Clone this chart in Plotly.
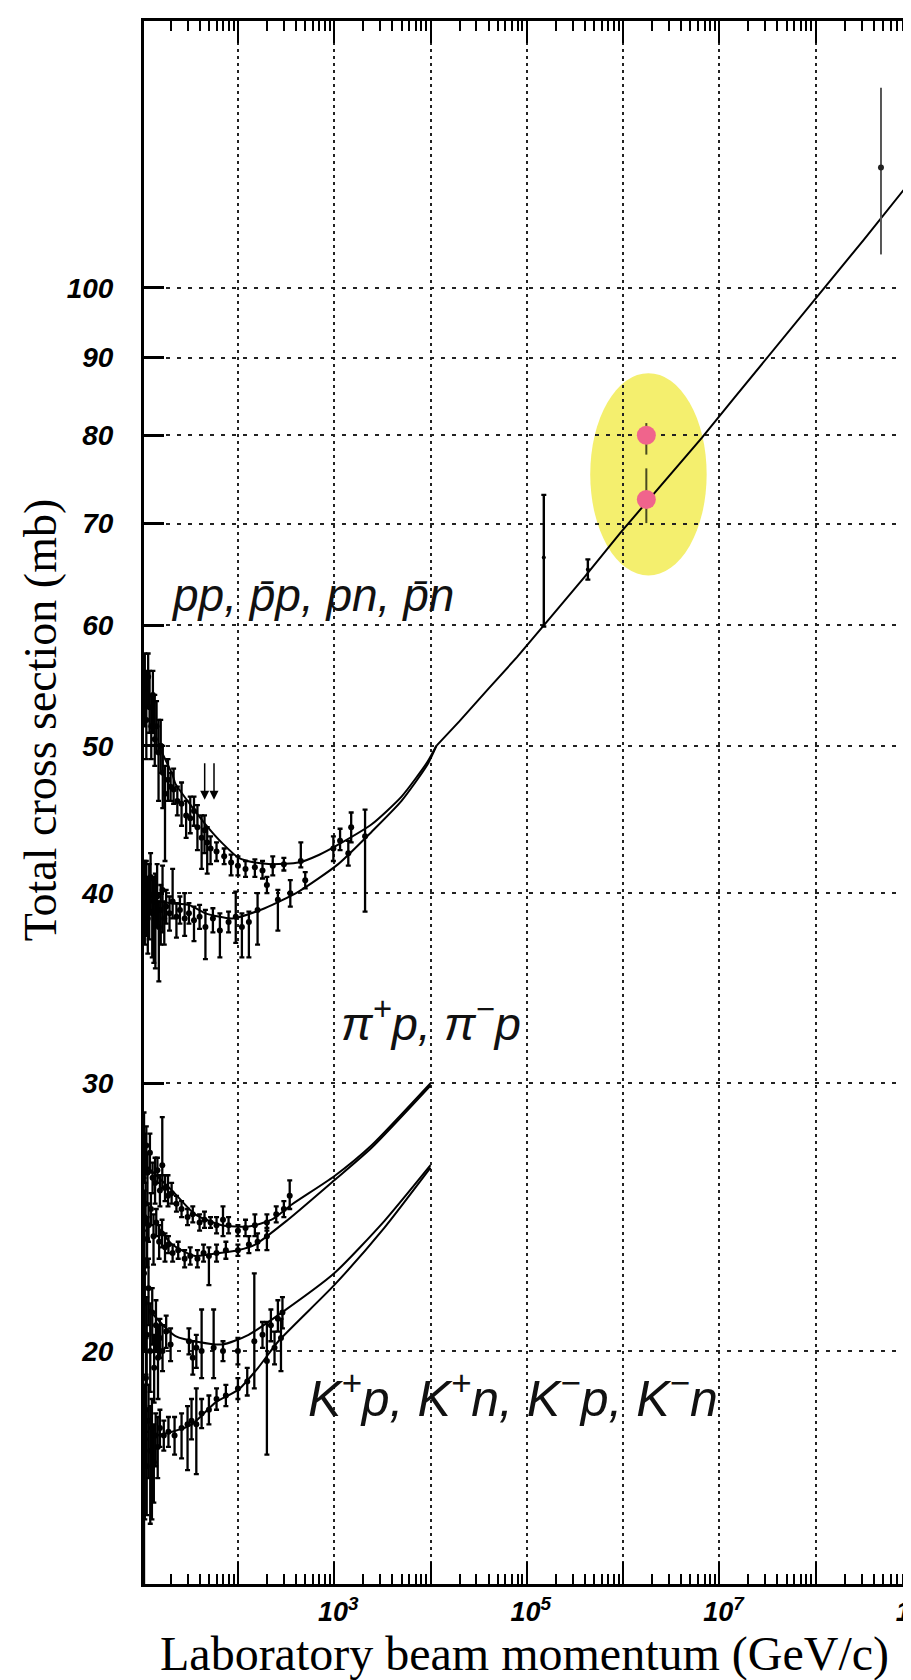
import plotly.graph_objects as go

# ---------------- data ----------------
# fitted curves: momentum (GeV/c) and total cross section (mb)
pbarp_fit_p = [15, 20.8, 22.5, 30, 46, 70, 102, 150, 224, 427, 700, 1100, 2450, 5000, 9300, 11500]
pbarp_fit_s = [50.0, 47.9, 47.2, 46.0, 44.4, 43.1, 42.2, 41.9, 41.8, 41.9, 42.4, 43.05, 44.4, 46.3, 48.8, 50.0]
pp_fit_p = [12, 20, 31, 46, 87, 190, 427, 1100, 2450, 5000, 9300, 11500]
pp_fit_s = [39.6, 39.4, 39.3, 38.8, 38.5, 39.1, 40.1, 41.8, 43.9, 46.0, 48.6, 50.0]
common_fit_p = [11500, 20000, 39800, 79400, 1.5e5, 4.0e5, 9.3e5, 2.5e6, 6.55e6, 1.41e7, 2.92e7,
                9.5e7, 3.16e8, 1.07e9]
common_fit_s = [50.0, 51.9, 54.5, 57.2, 60.0, 64.6, 69.0, 74.2, 79.7, 84.6, 89.5,
                98.0, 107.6, 118.5]
pim_fit_p = [11, 20.8, 36, 68, 129, 224, 363, 1000, 2430, 10000]
pim_fit_s = [26.5, 25.5, 24.6, 24.2, 24.15, 24.4, 24.97, 26.06, 27.3, 30.0]
pip_fit_p = [15, 20.8, 36, 63, 100, 151, 331, 1000, 2430, 10000]
pip_fit_s = [24.1, 23.5, 23.1, 23.2, 23.3, 23.5, 24.4, 25.9, 27.2, 29.9]
km_fit_p = [11.9, 22.5, 68, 129, 285, 1000, 3310, 10000]
km_fit_s = [21.3, 20.46, 20.2, 20.5, 21.2, 22.5, 24.35, 26.5]
kp_fit_p = [14, 20.8, 33.4, 58.3, 101.6, 162, 263, 1000, 3310, 10000]
kp_fit_s = [17.6, 17.7, 17.9, 18.5, 18.87, 19.5, 20.3, 22.1, 24.1, 26.4]

# measured points: momentum, sigma, error+, error-
pbarp_p = [10.8, 11.2, 11.7, 12.1, 12.6, 13.1, 13.7, 14.3, 15.0, 15.8, 16.6, 17.5, 18.8, 20.0, 21.5, 23.5,
           26.0, 29.0, 32.0, 35.0, 38.0, 42.0, 45.0, 48.0, 52.0, 60.0, 72.0, 85.0, 100, 120, 150, 180,
           230, 300, 450, 980, 1150, 1500]
pbarp_s = [54.5, 52.0, 55.5, 53.0, 51.5, 54.0, 50.5, 51.5, 49.5, 50.0, 48.0, 46.5, 47.5, 47.0, 46.8, 46.0,
           45.8, 45.0, 44.8, 45.3, 44.2, 43.5, 44.0, 43.2, 42.8, 42.6, 42.3, 41.9, 41.7, 41.5, 41.6, 41.4,
           41.7, 41.8, 42.0, 42.8, 43.3, 44.2]
pbarp_ep = [3.0, 4.0, 2.0, 3.0, 2.5, 2.0, 3.5, 2.0, 2.5, 2.0, 2.0, 2.0, 1.5, 1.0, 1.5, 1.0,
            1.5, 1.0, 1.5, 1.0, 1.5, 1.5, 1.0, 1.0, 0.8, 0.6, 0.5, 0.5, 0.6, 0.5, 0.5, 0.6,
            0.6, 0.4, 1.2, 0.8, 0.8, 1.0]
pbarp_em = [3.0, 3.0, 2.5, 2.0, 2.5, 3.0, 2.0, 2.0, 3.5, 2.0, 2.5, 4.5, 1.5, 1.0, 1.0, 1.0,
            1.5, 1.5, 1.0, 1.0, 1.5, 2.0, 1.5, 2.0, 1.0, 0.6, 0.5, 0.8, 0.6, 0.5, 0.6, 0.5,
            0.6, 0.4, 0.4, 0.8, 0.6, 1.0]

pp_p = [10.8, 11.2, 11.6, 12.0, 12.4, 12.9, 13.4, 13.9, 14.5, 15.1, 15.8, 16.5, 17.2, 18.0, 19.5, 21.0,
        23.0, 25.0, 28.0, 31.0, 35.0, 40.0, 46.0, 55.0, 65.0, 80.0, 95.0, 110, 130, 160, 200, 260,
        350, 500, 1400, 2090]
pp_s = [39.5, 40.5, 38.5, 39.8, 41.0, 38.8, 39.5, 38.2, 39.8, 38.0, 39.0, 40.2, 38.5, 39.2, 38.8, 39.5,
        38.6, 39.0, 38.5, 38.8, 38.4, 38.6, 38.0, 38.5, 37.8, 38.3, 38.6, 38.0, 38.3, 39.0, 40.5, 39.6,
        40.0, 40.8, 42.5, 43.6]
pp_ep = [2.5, 1.5, 2.5, 2.0, 1.5, 2.0, 1.5, 3.0, 2.0, 1.5, 1.5, 1.5, 1.0, 1.0, 1.0, 2.0,
         0.8, 0.8, 1.5, 0.6, 0.8, 0.7, 1.0, 0.6, 1.0, 0.6, 1.5, 0.8, 0.6, 1.0, 0.5, 0.6,
         0.8, 0.5, 0.8, 1.8]
pp_em = [2.5, 3.0, 2.0, 2.5, 2.0, 2.5, 3.5, 2.5, 1.5, 3.0, 2.0, 2.5, 1.5, 1.0, 1.0, 1.0,
         1.2, 0.8, 1.0, 0.6, 1.2, 0.7, 1.8, 0.8, 1.5, 0.6, 1.5, 1.7, 2.0, 2.0, 0.5, 1.8,
         0.8, 0.5, 0.8, 4.7]

pim_p = [10.6, 10.8, 11.2, 11.5, 12.2, 13.0, 13.8, 14.6, 15.5, 16.4, 17.5, 18.8, 20.5, 23.0, 26.0, 30.0,
         34.0, 40.0, 45.0, 52.0, 60.0, 70.0, 80.0, 100, 120, 150, 200, 250, 300, 345]
pim_s = [27.5, 26.8, 27.3, 26.2, 27.0, 26.0, 25.8, 26.3, 25.5, 26.5, 25.6, 25.3, 25.4, 25.0, 24.8, 24.5,
         24.6, 24.3, 24.4, 24.3, 24.2, 24.4, 24.2, 24.0, 24.1, 24.2, 24.3, 24.6, 24.8, 25.3]
pim_ep = [1.2, 1.0, 0.8, 0.8, 0.8, 0.6, 1.0, 0.5, 0.6, 2.0, 0.5, 0.8, 0.4, 0.3, 0.3, 0.3,
          0.3, 0.3, 0.3, 0.2, 0.3, 0.5, 0.3, 0.2, 0.3, 0.4, 0.3, 0.3, 0.3, 0.6]
pim_em = [1.5, 1.0, 1.0, 1.2, 0.8, 0.6, 0.8, 0.5, 0.6, 0.9, 0.5, 0.4, 0.4, 0.3, 0.3, 0.3,
          0.3, 0.3, 0.3, 0.2, 0.3, 0.6, 0.3, 0.2, 0.3, 0.4, 0.3, 0.3, 0.3, 0.5]

pip_p = [10.7, 11.0, 11.4, 11.8, 12.5, 13.3, 14.2, 15.2, 16.3, 17.5, 19.0, 21.0, 24.0, 28.0, 32.0, 38.0,
         44.0, 50.0, 60.0, 75.0, 100, 130, 160, 200]
pip_s = [24.5, 25.0, 23.7, 24.2, 24.8, 23.8, 24.3, 23.6, 23.9, 23.4, 23.5, 23.2, 23.3, 23.0, 23.1, 23.0,
         23.2, 23.1, 23.2, 23.3, 23.3, 23.5, 23.6, 23.8]
pip_ep = [1.0, 0.8, 0.8, 0.8, 0.6, 0.8, 0.5, 0.6, 0.5, 0.5, 0.3, 0.3, 0.3, 0.3, 0.3, 0.3,
          0.3, 0.3, 0.3, 0.3, 0.2, 0.3, 0.3, 0.3]
pip_em = [1.5, 0.8, 1.0, 0.6, 0.6, 1.0, 0.5, 0.6, 0.5, 0.5, 0.3, 0.3, 0.3, 0.3, 0.3, 0.3,
          0.3, 1.0, 0.3, 0.3, 0.2, 0.3, 0.3, 0.5]

km_p = [10.6, 10.8, 11.1, 11.3, 11.8, 12.3, 12.9, 13.5, 14.1, 14.8, 15.5, 16.5, 18.0, 20.0, 31.0, 34.0,
        37.0, 42.0, 56.0, 70.0, 100, 148, 180, 220, 260, 290]
km_s = [22.5, 21.5, 19.2, 20.5, 22.0, 20.0, 21.2, 19.5, 20.8, 19.8, 20.4, 20.0, 20.6, 20.2, 20.3, 19.8,
        20.1, 20.0, 20.1, 20.0, 20.0, 20.3, 20.5, 20.8, 21.0, 21.2]
km_ep = [1.5, 1.5, 1.2, 1.2, 1.0, 1.5, 0.8, 1.0, 0.8, 1.0, 0.6, 0.8, 0.5, 0.5, 0.4, 0.5,
         0.4, 1.3, 1.2, 0.3, 0.4, 2.2, 0.4, 0.5, 0.6, 0.5]
km_em = [2.0, 1.5, 1.5, 1.5, 1.2, 1.2, 1.0, 1.0, 0.8, 1.2, 0.6, 0.6, 0.5, 0.5, 0.4, 0.5,
         0.6, 0.8, 0.9, 0.3, 0.4, 1.4, 0.4, 0.5, 0.4, 0.5]

kp_p = [10.6, 10.8, 11.1, 11.3, 11.8, 12.3, 12.8, 13.4, 14.0, 14.7, 15.5, 17.0, 19.0, 22.0, 26.0, 30.0,
        33.0, 37.0, 42.0, 50.0, 60.0, 75.0, 100, 125, 200, 240, 280]
kp_s = [17.0, 17.5, 18.3, 16.8, 18.0, 17.2, 17.8, 16.9, 17.6, 17.3, 17.8, 17.6, 17.7, 17.6, 17.8, 17.9,
        18.0, 17.9, 18.2, 18.3, 18.6, 18.7, 18.9, 19.1, 19.7, 20.1, 20.4]
kp_ep = [2.0, 1.5, 1.0, 1.5, 1.0, 1.2, 0.8, 1.0, 0.6, 0.8, 0.5, 0.4, 0.4, 0.5, 0.4, 0.5,
         0.6, 1.0, 0.4, 0.4, 0.3, 0.3, 0.3, 0.4, 1.2, 0.5, 0.6]
kp_em = [3.5, 2.0, 1.5, 1.2, 1.5, 1.8, 2.3, 1.0, 0.8, 0.8, 0.5, 0.4, 0.4, 0.5, 0.8, 1.2,
         0.5, 1.3, 0.4, 0.4, 0.3, 0.3, 0.3, 0.4, 2.6, 0.5, 1.0]

# high-energy points
he_p = [1.5e5, 4.3e5]
he_s = [66.5, 65.3]
he_ep = [6.6, 1.0]
he_em = [6.6, 1.0]
cosmic_p = [4.75e8]
cosmic_s = [120.0]
cosmic_ep = [15.4]
cosmic_em = [14.8]
tev_p = [1.74e6, 1.74e6]
tev_s = [80.0, 72.6]
tev_ep = [1.5, 3.5]
tev_em = [2.3, 2.55]

x_tickvals = [1e2, 1e3, 1e4, 1e5, 1e6, 1e7, 1e8, 1e9]
x_ticktext = ["", "10<sup>3</sup>", "", "10<sup>5</sup>", "", "10<sup>7</sup>", "", "10<sup>9</sup>"]
y_tickvals = [20, 30, 40, 50, 60, 70, 80, 90, 100]
y_ticktext = ["20", "30", "40", "50", "60", "70", "80", "90", "100"]
minor_x = [m * 10 ** k for k in range(1, 9) for m in range(2, 10)]

# ---------------- figure ----------------
fig = go.Figure()

def curve(px, sy, shape="spline"):
    fig.add_trace(go.Scatter(x=px, y=sy, mode="lines", line=dict(color="black", width=2, shape=shape,
                                                                   smoothing=0.6),
                             showlegend=False, hoverinfo="skip"))

def points(px, sy, ep, em, color="black", size=6, thick=2.3, symbol="circle"):
    fig.add_trace(go.Scatter(
        x=px, y=sy, mode="markers",
        marker=dict(color=color, size=size, symbol=symbol),
        error_y=dict(type="data", array=ep, arrayminus=em, color="black", thickness=thick, width=2.5),
        showlegend=False, hoverinfo="skip"))

points(pbarp_p, pbarp_s, pbarp_ep, pbarp_em)
points(pp_p, pp_s, pp_ep, pp_em)
points(pim_p, pim_s, pim_ep, pim_em)
points(pip_p, pip_s, pip_ep, pip_em)
points(km_p, km_s, km_ep, km_em)
points(kp_p, kp_s, kp_ep, kp_em)

curve(pbarp_fit_p, pbarp_fit_s)
curve(pp_fit_p, pp_fit_s)
curve(common_fit_p, common_fit_s, shape="linear")
curve(pim_fit_p, pim_fit_s)
curve(pip_fit_p, pip_fit_s)
curve(km_fit_p, km_fit_s)
curve(kp_fit_p, kp_fit_s)

points(he_p, he_s, he_ep, he_em, size=4, thick=2.4)
fig.add_trace(go.Scatter(x=cosmic_p, y=cosmic_s, mode="markers",
                         marker=dict(color="#222", size=6),
                         error_y=dict(type="data", array=cosmic_ep, arrayminus=cosmic_em,
                                      color="#555", thickness=2, width=0),
                         showlegend=False, hoverinfo="skip"))
fig.add_trace(go.Scatter(x=tev_p, y=tev_s, mode="markers",
                         marker=dict(color="#F0648C", size=19),
                         error_y=dict(type="data", array=tev_ep, arrayminus=tev_em,
                                      color="#4a4a20", thickness=2, width=0),
                         showlegend=False, hoverinfo="skip"))

# highlight ellipse
fig.add_shape(type="circle", xref="x", yref="y", x0=4.55e5, x1=7.36e6, y0=64.7, y1=87.9,
              fillcolor="#F4EF6E", line=dict(width=0), layer="below")

# double arrow
for xa in [0.0787, 0.0908]:
    fig.add_annotation(xref="paper", yref="paper", x=xa, y=0.5018, ax=0, ay=-38,
                       showarrow=True, arrowhead=2, arrowsize=1.2, arrowwidth=1.5,
                       arrowcolor="black", text="")

def lab_font(s):
    return dict(family="Liberation Sans", size=s, color="#111", style="italic")

fig.add_annotation(xref="paper", yref="paper", x=0.032, y=0.633, xanchor="left", yanchor="middle",
                   text="pp, p\u0304p, pn, p\u0304n", showarrow=False, font=lab_font(46))
fig.add_annotation(xref="paper", yref="paper", x=0.372, y=0.361, xanchor="center", yanchor="middle",
                   text="π<sup>+</sup>p, π<sup>−</sup>p", showarrow=False, font=lab_font(47))
fig.add_annotation(xref="paper", yref="paper", x=0.478, y=0.121, xanchor="center", yanchor="middle",
                   text="K<sup>+</sup>p, K<sup>+</sup>n, K<sup>−</sup>p, K<sup>−</sup>n",
                   showarrow=False, font=lab_font(50))

fig.add_annotation(xref="paper", yref="paper", x=0.494, y=-0.0445, xanchor="center", yanchor="middle",
                   text="Laboratory beam momentum (GeV/c)", showarrow=False,
                   font=dict(family="Liberation Serif", size=48, color="black"))
fig.add_annotation(xref="paper", yref="paper", x=-0.134, y=0.553, xanchor="center", yanchor="middle",
                   text="Total cross section (mb)", textangle=-90, showarrow=False,
                   font=dict(family="Liberation Serif", size=46, color="black"))

tick_font = dict(family="Liberation Sans", size=27, color="black", weight="bold", style="italic")

fig.update_xaxes(type="log", range=[1.025, 9.03], automargin=False,
                 tickmode="array", tickvals=x_tickvals, ticktext=x_ticktext,
                 ticks="inside", ticklen=22, tickwidth=2, tickcolor="black",
                 minor=dict(tickmode="array", tickvals=minor_x, ticks="inside", ticklen=10,
                            tickwidth=1.8, tickcolor="black", showgrid=False),
                 showgrid=True, gridcolor="#222", gridwidth=2, griddash="3px,4px",
                 showline=True, linecolor="black", linewidth=3, mirror="ticks",
                 tickfont=tick_font, ticklabelstandoff=2, ticklabelshift=4,
                 ticklabeloverflow="allow", zeroline=False)
fig.update_yaxes(type="log", range=[1.1479, 2.1755], automargin=False,
                 tickmode="array", tickvals=y_tickvals, ticktext=y_ticktext,
                 ticks="inside", ticklen=20, tickwidth=3, tickcolor="black",
                 showgrid=True, gridcolor="#222", gridwidth=2, griddash="4px,7px",
                 showline=True, linecolor="black", linewidth=3, mirror=True,
                 tickfont=dict(family="Liberation Sans", size=28, color="black",
                               weight="bold", style="italic"),
                 ticklabelstandoff=22, zeroline=False)

fig.update_layout(width=911, height=1680,
                  margin=dict(l=136, r=4, t=13, b=104, autoexpand=False),
                  paper_bgcolor="white", plot_bgcolor="white",
                  showlegend=False)

fig.write_html("out.html")
